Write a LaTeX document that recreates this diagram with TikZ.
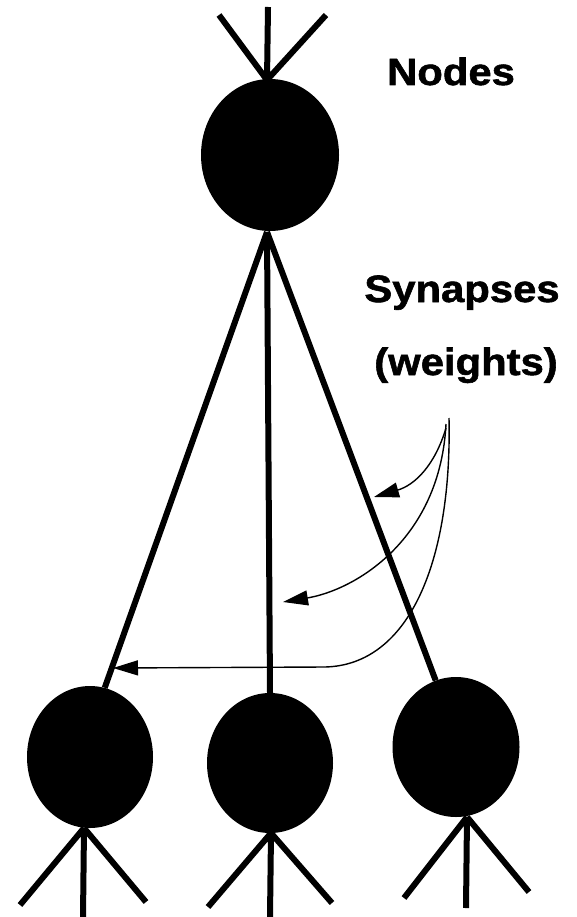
\documentclass[tikz,border=0pt]{standalone}
\usepackage{fontspec}
\newfontfamily\labfont[FakeStretch=1.1,FakeBold=1.5]{Liberation Sans Bold}
\usetikzlibrary{shapes.geometric,arrows.meta}
\begin{document}
\begin{tikzpicture}[x=1pt,y=-1pt,
  neuron/.style={ellipse,fill=black,inner sep=0pt},
  thickline/.style={line width=6pt},
  thinarrow/.style={line width=1.4pt,-{Triangle[length=25pt,width=15pt]}},
  lab/.style={font=\labfont\fontsize{38}{40}\selectfont,inner sep=0pt,anchor=base}]
\useasboundingbox (0,0) rectangle (576,917);
% nodes
\node[neuron,minimum width=138pt,minimum height=152pt] (top) at (270,155) {};
\node[neuron,minimum width=126pt,minimum height=142pt] (l) at (90,757) {};
\node[neuron,minimum width=126pt,minimum height=140pt] (m) at (270,763) {};
\node[neuron,minimum width=127pt,minimum height=140pt] (r) at (456,747) {};
% top inputs
\coordinate (ti1) at (219,15);
\coordinate (ti2) at (268,7);
\coordinate (ti3) at (326,15);
\coordinate (tj) at (267,80);
\draw[thickline] (ti1) -- (tj) (ti2) -- (tj) (ti3) -- (tj);
% synapses
\coordinate (tb) at (267,232);
\draw[thickline] (tb) -- (l.78);
\draw[thickline] (tb) -- (m.north);
\draw[thickline] (tb) -- (r.107);
% bottom legs
\coordinate (lj) at (84,828);
\coordinate (mj) at (271,833);
\coordinate (rj) at (467,817);
\coordinate (la) at (20,905); \coordinate (lb) at (83,917); \coordinate (lc) at (146,902);
\coordinate (ma) at (208,907); \coordinate (mb) at (270,917); \coordinate (mc) at (332,903);
\coordinate (ra) at (404,898); \coordinate (rb) at (466,908); \coordinate (rc) at (529,892);
\draw[thickline] (lj) -- (la) (lj) -- (lb) (lj) -- (lc);
\draw[thickline] (mj) -- (ma) (mj) -- (mb) (mj) -- (mc);
\draw[thickline] (rj) -- (ra) (rj) -- (rb) (rj) -- (rc);
% labels
\node[lab] (nodes) at (451,85) {Nodes};
\node[lab] (syn) at (462,302) {Synapses};
\node[lab] (wts) at (466,375) {(weights)};
% arrows
\coordinate (s1) at (446,428);
\coordinate (s2) at (446,424);
\coordinate (s3) at (449,418);
\coordinate (e1) at (374,497);
\coordinate (e2) at (283,602);
\coordinate (k3) at (325,667);
\coordinate (e3) at (113,668);
\draw[thinarrow] (s1) .. controls (435,465) and (415,485) .. (e1);
\draw[thinarrow] (s2) .. controls (440,540) and (355,590) .. (e2);
\draw[thinarrow] (s3) .. controls (452,560) and (410,665) .. (k3) -- (e3);
\end{tikzpicture}
\end{document}
